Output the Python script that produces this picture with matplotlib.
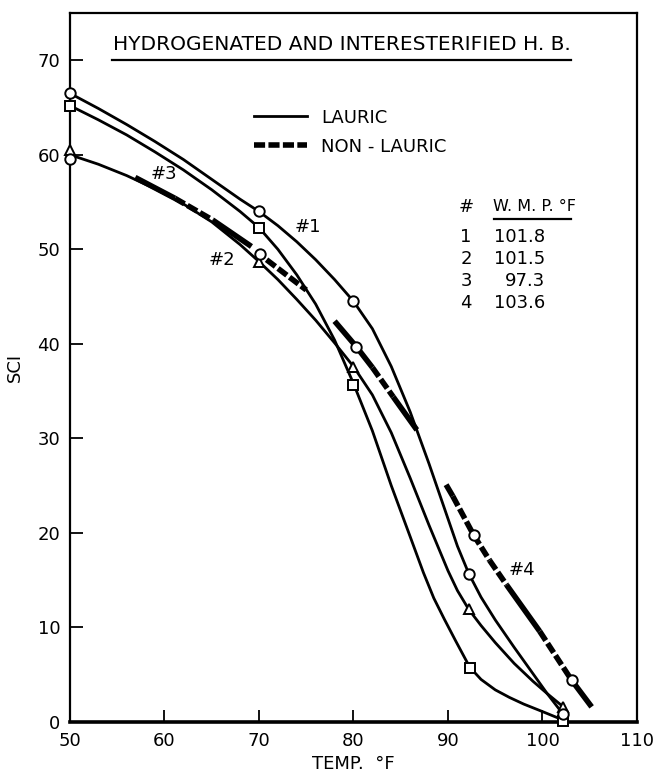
import numpy as np
import matplotlib
matplotlib.use('Agg')
import matplotlib.pyplot as plt
from matplotlib.lines import Line2D

plt.rcParams['font.family'] = ['DejaVu Sans']

# ---- lauric curves ----
t_1 = [50, 53, 56, 59, 62, 65, 68, 70, 72, 74, 76, 78, 80, 82, 84, 86, 88, 90, 91, 92.2,
       93.5, 95, 97, 99, 100.5, 102.2]
sci_1 = [66.5, 64.9, 63.2, 61.4, 59.5, 57.4, 55.3, 54.0, 52.5, 50.8, 48.9, 46.8, 44.5, 41.6,
         37.6, 32.8, 27.3, 21.5, 18.6, 15.7, 13.2, 10.8, 7.9, 5.1, 3.0, 0.8]

t_sq = [50, 53, 56, 59, 62, 65, 68, 70, 72, 74, 76, 78, 80, 82, 84, 86, 87.4, 88.5, 89.6,
        90.8, 92.3, 93.5, 95, 96.5, 98, 100, 102.2]
sci_sq = [65.2, 63.7, 62.1, 60.3, 58.4, 56.3, 54.0, 52.3, 50.0, 47.3, 44.2, 40.4, 35.8, 30.8,
          25.0, 19.6, 15.8, 13.1, 10.9, 8.6, 5.8, 4.5, 3.4, 2.6, 1.9, 1.1, 0.2]

t_2 = [50, 53, 56, 59, 62, 65, 68, 70, 72, 74, 76, 78, 80, 82, 84, 86, 88, 90, 91, 92.2,
       93.5, 95, 97, 99, 100.5, 102.2]
sci_2 = [60.0, 59.0, 57.8, 56.4, 54.8, 52.9, 50.5, 48.7, 46.8, 44.7, 42.5, 40.1, 37.6, 34.6,
         30.6, 25.8, 20.8, 16.0, 13.9, 11.9, 10.2, 8.4, 6.2, 4.3, 3.0, 1.6]

# measured points (markers)
circ_t = [50, 70, 80, 92.2, 102.2]
circ_sci = [66.5, 54.0, 44.5, 15.7, 0.8]
sq_t = [50, 70, 80, 92.3, 102.2]
sq_sci = [65.2, 52.3, 35.6, 5.7, 0.1]
tri_t = [50, 70, 80, 92.2, 102.2]
tri_sci = [60.5, 48.7, 37.6, 11.9, 1.6]
nl_circ_t = [50, 70.1, 80.3, 92.7, 103.1]
nl_circ_sci = [59.6, 49.5, 39.7, 19.8, 4.4]

# ---- non-lauric segments ----
n3_t = [56.9, 61.1, 65.1, 69.2]
n3_sci = [57.6, 55.4, 53.1, 50.3]
n3_style = ['solid', 'hatch', 'solid']

n4a_t = [70.8, 75.0]
n4a_sci = [48.9, 45.7]
n4a_style = ['hatch']

n4b_t = [78.0, 80.3, 82.0, 84.2, 86.7]
n4b_sci = [42.4, 39.7, 37.5, 34.4, 30.9]
n4b_style = ['solid', 'solid', 'hatch', 'solid']

n4c_t = [89.8, 90.5, 92.7, 94.4, 96.2, 99.7, 103.1, 105.2]
n4c_sci = [25.1, 23.9, 19.8, 17.1, 14.5, 9.6, 4.4, 1.6]
n4c_style = ['solid', 'hatch', 'hatch', 'hatch', 'solid', 'hatch', 'solid']

wmp_ids = ['1', '2', '3', '4']
wmp_vals = ['101.8', '101.5', '97.3', '103.6']

fig = plt.figure(figsize=(6.54, 7.77), dpi=100)
ax = fig.add_axes([0.107, 0.0708, 0.867, 0.9125])

thin = dict(color='k', lw=2.0, solid_capstyle='round', solid_joinstyle='round')
ax.plot(t_1, sci_1, **thin)
ax.plot(t_sq, sci_sq, **thin)
ax.plot(t_2, sci_2, **thin)

HATCH = (2.0, 0.6)

def thick(ts, ss, styles):
    for i, st in enumerate(styles):
        if st == 'solid':
            ax.plot(ts[i:i+2], ss[i:i+2], color='k', lw=4.0, solid_capstyle='butt')
        else:
            ax.plot(ts[i:i+2], ss[i:i+2], color='k', lw=4.0, dashes=HATCH,
                    dash_capstyle='butt')

thick(n3_t, n3_sci, n3_style)
thick(n4a_t, n4a_sci, n4a_style)
thick(n4b_t, n4b_sci, n4b_style)
thick(n4c_t, n4c_sci, n4c_style)

mk = dict(ls='none', mfc='white', mec='k', mew=1.4, ms=7.5, zorder=5, clip_on=False)
ax.plot(sq_t, sq_sci, marker='s', **mk)
ax.plot(tri_t, tri_sci, marker='^', **mk)
ax.plot(circ_t, circ_sci, marker='o', **mk)
ax.plot(nl_circ_t, nl_circ_sci, marker='o', **mk)

ax.set_xlim(50, 110)
ax.set_ylim(0, 75)
ax.set_xticks(np.arange(50, 111, 10))
ax.set_yticks(np.arange(0, 71, 10))
ax.tick_params(direction='in', length=9, width=1.3, labelsize=13, pad=7)
for side in ['left', 'top', 'right']:
    ax.spines[side].set_linewidth(1.6)
ax.spines['bottom'].set_linewidth(2.6)

ax.set_xlabel('TEMP.  °F', fontsize=13, labelpad=4)
ax.set_ylabel('SCI', fontsize=13, labelpad=10)

# title with underline
ax.text(0.479, 0.955, 'HYDROGENATED AND INTERESTERIFIED H. B.', transform=ax.transAxes,
        ha='center', va='center', fontsize=14.5)
ax.plot([0.074, 0.883], [0.934, 0.934], transform=ax.transAxes, color='k', lw=1.6)

# curve labels
ax.text(73.8, 52.4, '#1', fontsize=13, ha='left', va='center')
ax.text(67.5, 48.9, '#2', fontsize=13, ha='right', va='center')
ax.text(59.9, 58.0, '#3', fontsize=13, ha='center', va='center')
ax.text(97.8, 16.1, '#4', fontsize=13, ha='center', va='center')

# legend
handles = [Line2D([], [], color='k', lw=2.0),
           Line2D([], [], color='k', lw=4.0, dashes=HATCH, dash_capstyle='butt')]
ax.legend(handles, ['LAURIC', 'NON - LAURIC'], loc='upper left',
          bbox_to_anchor=(0.325, 0.865), frameon=False, fontsize=13,
          handlelength=2.9, handletextpad=0.8, labelspacing=0.6,
          borderpad=0, borderaxespad=0)

# W.M.P. table
ax.text(91.9, 54.5, '#', fontsize=13, ha='center', va='center')
ax.text(94.8, 54.5, 'W. M. P. °F', fontsize=11.5, ha='left', va='center')
ax.plot([0.748, 0.883], [0.709, 0.709], transform=ax.transAxes, color='k', lw=1.6)
row_y = [51.3, 49.0, 46.7, 44.3]
for rid, val, y in zip(wmp_ids, wmp_vals, row_y):
    ax.text(91.9, y, rid, fontsize=13, ha='center', va='center')
    ax.text(100.3, y, val, fontsize=13, ha='right', va='center')

fig.savefig('out.png', dpi=100)
